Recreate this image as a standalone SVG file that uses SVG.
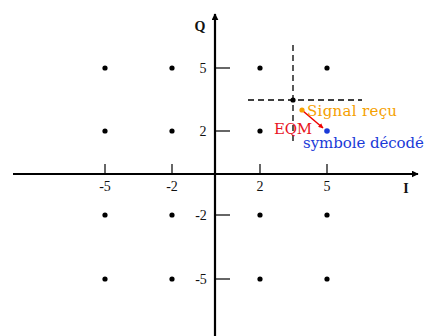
<svg xmlns="http://www.w3.org/2000/svg" width="426" height="336" viewBox="0 0 426 336">
<style>
.ax{stroke:#000;stroke-width:2.2;fill:none}
.tk{stroke:#000;stroke-width:1.2}
.lb{font-family:"Liberation Serif",serif;font-size:14px;fill:#111;text-anchor:middle}
.dot{fill:#000}
.dash{stroke:#000;stroke-width:1.3;stroke-dasharray:6,4;fill:none}
.ann{font-family:"DejaVu Serif",serif;font-size:15px}
</style>
<defs>
<marker id="arr" viewBox="0 0 10 10" refX="9" refY="5" markerWidth="7" markerHeight="7" orient="auto" markerUnits="userSpaceOnUse">
<path d="M0,0 L10,5 L0,10 z" fill="#000"/>
</marker>
<marker id="arrR" viewBox="0 0 10 10" refX="9" refY="5" markerWidth="5" markerHeight="5" orient="auto" markerUnits="userSpaceOnUse">
<path d="M0,0 L10,5 L0,10 z" fill="#e00"/>
</marker>
</defs>
<rect width="426" height="336" fill="#fff"/>
<g id="connectors">
<line class="ax" x1="13" y1="174" x2="418" y2="174" marker-end="url(#arr)"/>
<line class="ax" x1="215" y1="336" x2="215" y2="14" marker-end="url(#arr)"/>
<line class="tk" x1="105" y1="164" x2="105" y2="174"/>
<line class="tk" x1="172" y1="164" x2="172" y2="174"/>
<line class="tk" x1="260" y1="164" x2="260" y2="174"/>
<line class="tk" x1="327" y1="164" x2="327" y2="174"/>
<line class="tk" x1="215" y1="68" x2="230" y2="68"/>
<line class="tk" x1="215" y1="131" x2="230" y2="131"/>
<line class="tk" x1="215" y1="215" x2="230" y2="215"/>
<line class="tk" x1="215" y1="279" x2="230" y2="279"/>
<line class="dash" x1="293" y1="45" x2="293" y2="145"/>
<line class="dash" x1="248" y1="100" x2="362" y2="100"/>
<line x1="303" y1="111" x2="323" y2="128" stroke="#e00" stroke-width="1.5" marker-end="url(#arrR)"/>
</g>
<g id="labels">
<text class="lb" x="200" y="31" style="font-weight:bold;font-size:14px">Q</text>
<text class="lb" x="406" y="193" style="font-weight:bold;font-size:14px">I</text>
<text class="lb" x="203" y="73">5</text>
<text class="lb" x="203" y="136">2</text>
<text class="lb" x="201" y="220">-2</text>
<text class="lb" x="201" y="284">-5</text>
<text class="lb" x="105" y="191">-5</text>
<text class="lb" x="172" y="191">-2</text>
<text class="lb" x="260" y="191">2</text>
<text class="lb" x="327" y="191">5</text>
</g>
<g id="points">
<circle class="dot" cx="105" cy="68" r="2.6"/>
<circle class="dot" cx="172" cy="68" r="2.6"/>
<circle class="dot" cx="260" cy="68" r="2.6"/>
<circle class="dot" cx="327" cy="68" r="2.6"/>
<circle class="dot" cx="105" cy="131" r="2.6"/>
<circle class="dot" cx="172" cy="131" r="2.6"/>
<circle class="dot" cx="260" cy="131" r="2.6"/>
<circle class="dot" cx="105" cy="215" r="2.6"/>
<circle class="dot" cx="172" cy="215" r="2.6"/>
<circle class="dot" cx="260" cy="215" r="2.6"/>
<circle class="dot" cx="327" cy="215" r="2.6"/>
<circle class="dot" cx="105" cy="279" r="2.6"/>
<circle class="dot" cx="172" cy="279" r="2.6"/>
<circle class="dot" cx="260" cy="279" r="2.6"/>
<circle class="dot" cx="327" cy="279" r="2.6"/>
<circle class="dot" cx="293" cy="100" r="2.6"/>
</g>
<g id="signal">
<circle cx="302" cy="110" r="2.6" fill="#f5a000"/>
<text class="ann" x="307" y="116" fill="#f5a000" textLength="90">Signal reçu</text>
</g>
<g id="eqm">
<text class="ann" x="274" y="134" fill="#e8141e" textLength="38">EQM</text>
</g>
<g id="decode">
<circle cx="327" cy="131" r="2.8" fill="#1a3ad8"/>
<text class="ann" x="303" y="148" fill="#1a3ad8" textLength="121">symbole décodé</text>
</g>
</svg>
